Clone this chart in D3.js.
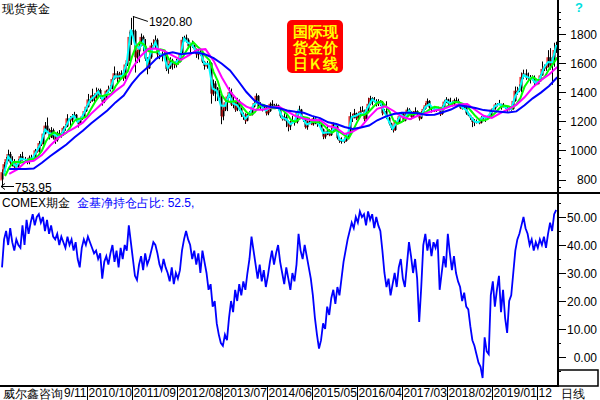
<!DOCTYPE html>
<html><head><meta charset="utf-8">
<script src="https://cdn.jsdelivr.net/npm/d3@7"></script>
<style>body{margin:0;background:#fff}svg{display:block}text{font-family:"Liberation Sans",Arial,sans-serif}</style>
</head><body>
<svg id="c" width="600" height="400"></svg>
<script>
// half-month candles, t = 0.5*i + 0.25 months after 2009-01
const opens=[800,850,905,940,975,915,925,885,890,925,960,940,935,920,950,950,945,1000,995,1050,1045,1115,1170,1140,
1095,1140,1085,1070,1120,1105,1110,1155,1165,1220,1210,1235,1245,1210,1180,1215,1235,1270,1300,1350,1340,1380,1360,1395,
1415,1370,1335,1365,1410,1420,1430,1490,1530,1495,1520,1530,1500,1590,1620,1780,1825,1820,1640,1680,1720,1780,1720,1630,
1565,1640,1720,1725,1760,1660,1665,1650,1660,1560,1570,1620,1595,1590,1615,1610,1670,1760,1775,1760,1715,1730,1720,1695,
1660,1680,1660,1610,1580,1590,1600,1390,1460,1430,1390,1380,1235,1280,1330,1370,1400,1315,1330,1280,1340,1285,1245,1230,
1205,1250,1245,1300,1325,1375,1295,1305,1290,1295,1255,1270,1320,1310,1290,1310,1285,1235,1215,1230,1200,1165,1195,1200,
1195,1265,1280,1230,1210,1160,1195,1200,1180,1220,1205,1180,1175,1145,1095,1110,1135,1105,1140,1180,1165,1085,1065,1065,
1065,1095,1115,1235,1225,1255,1220,1240,1270,1275,1215,1280,1320,1360,1340,1340,1320,1325,1335,1255,1270,1225,1185,1155,
1140,1195,1190,1235,1255,1205,1245,1280,1265,1230,1265,1270,1245,1220,1260,1285,1310,1340,1295,1290,1275,1280,1290,1250,
1300,1335,1350,1320,1330,1320,1345,1340,1325,1290,1300,1300,1255,1240,1225,1195,1200,1195,1190,1225,1230,1220,1225,1240,
1280,1290,1315,1320,1320,1300,1310,1295,1280,1285,1285,1340,1410,1410,1425,1505,1530,1500,1505,1490,1500,1465,1455,1475,
1515,1560,1575,1575,1640,1590,1620,1690];
const highs=[870,920,955,1005,990,960,940,905,940,975,990,955,945,965,970,960,1010,1020,1065,1070,1130,1195,1226,1150,
1160,1150,1100,1130,1140,1125,1165,1180,1249,1235,1250,1265,1250,1215,1225,1250,1280,1310,1388,1375,1424,1390,1432,1425,
1425,1375,1375,1415,1445,1448,1500,1577,1545,1540,1550,1555,1600,1632,1815,1911,1920.8,1830,1690,1745,1803,1790,1765,1640,
1665,1740,1763,1790,1770,1680,1680,1675,1665,1595,1640,1630,1605,1630,1625,1680,1780,1788,1796,1770,1740,1755,1725,1700,
1695,1697,1680,1615,1615,1617,1605,1487,1476,1435,1415,1395,1295,1348,1380,1433,1425,1372,1330,1361,1350,1295,1260,1255,
1260,1270,1305,1345,1392,1380,1331,1310,1315,1300,1280,1330,1345,1320,1322,1315,1290,1240,1255,1245,1205,1205,1238,1205,
1270,1307,1285,1235,1220,1205,1224,1210,1230,1232,1210,1205,1180,1150,1120,1170,1145,1157,1191,1185,1170,1090,1090,1088,
1110,1125,1263,1250,1285,1260,1262,1300,1304,1280,1295,1362,1375,1365,1367,1352,1352,1345,1340,1285,1338,1230,1190,1160,
1205,1220,1245,1264,1260,1260,1295,1290,1270,1270,1296,1275,1250,1270,1295,1325,1357,1345,1305,1295,1290,1300,1295,1310,
1345,1366,1355,1362,1340,1356,1365,1355,1330,1305,1310,1305,1265,1245,1225,1215,1212,1215,1235,1243,1237,1230,1250,1285,
1298,1326,1325,1347,1320,1325,1310,1300,1305,1295,1348,1439,1437,1453,1535,1555,1557,1535,1518,1516,1515,1478,1485,1525,
1611,1590,1590,1689,1703,1645,1740,1747];
const lows=[753.95,835,890,925,900,890,870,865,875,910,930,920,905,905,935,930,935,985,985,1030,1040,1110,1125,1075,
1085,1075,1045,1060,1100,1088,1100,1135,1160,1165,1195,1225,1195,1157,1175,1210,1225,1265,1295,1325,1335,1330,1355,1375,
1355,1308,1325,1355,1395,1405,1420,1485,1462,1475,1510,1478,1490,1580,1615,1725,1780,1535,1600,1605,1715,1680,1615,1523,
1560,1630,1705,1700,1640,1627,1612,1628,1545,1527,1560,1555,1565,1570,1590,1605,1665,1750,1740,1700,1672,1705,1685,1636,
1625,1650,1600,1555,1562,1585,1321,1375,1338,1340,1360,1180,1207,1270,1270,1360,1305,1290,1265,1270,1270,1230,1210,1182,
1200,1238,1240,1295,1320,1290,1285,1268,1280,1240,1242,1265,1300,1285,1285,1275,1225,1205,1205,1160,1131,1140,1185,1170,
1185,1250,1220,1195,1150,1142,1180,1175,1170,1180,1162,1165,1140,1077,1080,1105,1098,1100,1130,1140,1075,1052,1046,1050,
1060,1080,1110,1195,1220,1208,1210,1230,1265,1200,1205,1255,1310,1310,1330,1302,1305,1305,1241,1250,1215,1172,1140,1123,
1135,1180,1185,1230,1195,1200,1240,1255,1214,1225,1255,1236,1205,1215,1255,1280,1305,1280,1260,1265,1265,1275,1236,1245,
1295,1325,1306,1310,1303,1310,1325,1310,1285,1281,1290,1245,1235,1210,1160,1167,1185,1180,1185,1212,1196,1210,1221,1235,
1275,1280,1302,1310,1280,1295,1285,1266,1275,1273,1280,1335,1382,1400,1400,1490,1485,1485,1460,1480,1445,1450,1455,1470,
1515,1545,1547,1570,1555,1451,1575,1670];
const closes=[850,905,940,975,915,925,885,890,925,960,940,935,920,950,950,945,1000,995,1050,1045,1115,1170,1140,1095,
1140,1085,1070,1120,1105,1110,1155,1165,1220,1210,1235,1245,1210,1180,1215,1235,1270,1300,1350,1340,1380,1360,1395,1415,
1370,1335,1365,1410,1420,1430,1490,1530,1495,1520,1530,1500,1590,1620,1780,1825,1820,1640,1680,1720,1780,1720,1630,1565,
1640,1720,1725,1760,1660,1665,1650,1660,1560,1570,1620,1595,1590,1615,1610,1670,1760,1775,1760,1715,1730,1720,1695,1660,
1680,1660,1610,1580,1590,1600,1390,1460,1430,1390,1380,1235,1280,1330,1370,1400,1315,1330,1280,1340,1285,1245,1230,1205,
1250,1245,1300,1325,1375,1295,1305,1290,1295,1255,1270,1320,1310,1290,1310,1285,1235,1215,1230,1200,1165,1195,1200,1195,
1265,1280,1230,1210,1160,1195,1200,1180,1220,1205,1180,1175,1145,1095,1110,1135,1105,1140,1180,1165,1085,1065,1065,1065,
1095,1115,1235,1225,1255,1220,1240,1270,1275,1215,1280,1320,1360,1340,1340,1320,1325,1335,1255,1270,1225,1185,1155,1140,
1195,1190,1235,1255,1205,1245,1280,1265,1230,1265,1270,1245,1220,1260,1285,1310,1340,1295,1290,1275,1280,1290,1250,1300,
1335,1350,1320,1330,1320,1345,1340,1325,1290,1300,1300,1255,1240,1225,1195,1200,1195,1190,1225,1230,1220,1225,1240,1280,
1290,1315,1320,1320,1300,1310,1295,1280,1285,1285,1340,1410,1410,1425,1505,1530,1500,1505,1490,1500,1465,1455,1475,1515,
1560,1575,1575,1640,1590,1620,1690,1720];
// moving averages
const maCyan=[840,958,920,888,943,938,935,948,998,1048,1143,1118,1113,1095,1108,1160,1215,1240,1195,1225,1285,1345,1370,1405,
1353,1388,1425,1510,1508,1515,1605,1830,1730,1700,1750,1598,1680,1743,1663,1655,1565,1608,1603,1640,1768,1738,1725,1678,
1670,1595,1595,1425,1410,1308,1305,1385,1323,1310,1265,1218,1248,1313,1335,1298,1275,1295,1300,1298,1225,1215,1180,1198,
1273,1220,1178,1190,1213,1178,1120,1123,1123,1173,1075,1065,1105,1230,1238,1255,1245,1300,1350,1330,1330,1263,1205,1148,
1193,1245,1225,1273,1248,1258,1240,1298,1318,1283,1285,1275,1343,1325,1333,1333,1295,1278,1233,1198,1193,1228,1223,1260,
1303,1320,1305,1288,1285,1375,1418,1518,1503,1495,1460,1495,1568,1608,1605,1725];
const maGreen=[823,882,919,922,917,923,939,940,960,998,1063,1103,1125,1109,1105,1121,1161,1205,1217,1220,
1235,1285,1333,1373,1376,1382,1389,1441,1481,1511,1543,1641,1713,1744,1727,1683,1676,1674,1695,1687,
1628,1609,1592,1617,1670,1715,1744,1714,1691,1648,1620,1538,1477,1381,1341,1333,1338,1339,1299,1264,
1244,1260,1299,1315,1303,1289,1290,1298,1274,1246,1207,1198,1217,1230,1224,1196,1194,1194,1170,1140,
1122,1140,1124,1104,1082,1133,1191,1241,1246,1267,1298,1327,1337,1308,1266,1205,1182,1195,1221,1248,
1249,1260,1249,1265,1285,1300,1295,1281,1301,1314,1334,1330,1320,1302,1269,1236,1208,1206,1215,1237,
1262,1294,1309,1304,1293,1316,1359,1437,1480,1505,1486,1483,1508,1557,1594,1639];
const maMagenta=[839,869,921,929,968,1032,1086,1123,1155,1191,1251,1304,1358,1409,1450,1561,1644,1698,1700,1682,
1652,1622,1654,1692,1696,1615,1501,1405,1340,1301,1280,1280,1294,1300,1268,1236,1219,1207,1209,1167,
1155,1113,1129,1161,1229,1286,1303,1271,1231,1215,1240,1257,1274,1283,1305,1316,1318,1278,1238,1223,
1255,1283,1313,1365,1432,1482,1522,1574];
const maBlue=[873,873,873,875,915,960,1000,1040,1090,1135,1185,1230,1274,1330,1377,1459,1526,1574,1631,1663,
1675,1661,1668,1672,1659,1634,1596,1550,1477,1401,1342,1310,1298,1290,1274,1265,1259,1237,1222,1193,
1181,1161,1148,1158,1171,1207,1232,1250,1259,1259,1256,1244,1245,1262,1281,1310,1301,1292,1277,1270,
1266,1260,1268,1310,1358,1397,1443,1503];
// COMEX managed-money net long share (%), half-month points
const netLong=[32,42,45,40,46,41,38,42,40,39,47,40,49,44,48,51,47,50,51,48,50,45,49,44,47,43,42,44,40,43,41,39,43,40,42,38,41,35,32,39,
42,40,43,41,39,37,38,35,37,28,34,36,33,37,40,34,38,32,39,35,40,38,47,41,35,29,27.5,33,36,31,37,33,35,38,41,40,37,33,31,35,
32,30,27,32,26,30,28,31,38,42,45,42,40,35,38,33,37,30,38,34,30,24,26,18,20,12,8,5,4,8,6,14,20,16,24,20,26,22,27,24,
30,35,43,38,33,28,33,27,31,25,29,34,38,33,37,40,34,30,26,32,28,24,30,27,33,44,38,35,40,36,32,28,22,14,8,3,6,12,10,18,
15,21,24,19,25,22,28,34,38,42,45,48,46,50,48,52,50,51,47,52,49,51,46,50,47,45,38,30,25,28,22,26,30,25,32,35,28,25,33,41,
36,30,35,28,12.5,25,40,44,38,42,36,41,39,42,24,30,36,32,44,37,31,36,30,27,25,20,23,18,17,11,6,4,1,-2,-3.5,-7.5,7,2,1,22,
27,18,24,29,16,24,14,8.6,20,22,30,38,42,44,47,50,46,44,40,42,38,41,39,42,40,43,39,44,48,45,51,52.5];
const priceTicks=[800,1000,1200,1400,1600,1800];
const pctTicks=[0,10,20,30,40,50];
const dateMonths=[10,21,32,43,54,65,76,87,98,109,120,131];
const dateLabels=["9/11","2010/10","2011/09","2012/08","2013/07","2014/06","2015/05","2016/04","2017/03","2018/02","2019/01","12"];

const svg=d3.select("#c");
const R=558, TOP_B=193, BOT_B=386;
const x=d3.scaleLinear().domain([0,136]).range([1,1+4.09*136]);
const yP=d3.scaleLinear().domain([800,1800]).range([179.5,34]);
const yN=d3.scaleLinear().domain([0,50]).range([357,217]);

const defs=svg.append("defs");
defs.append("clipPath").attr("id","ct").append("rect").attr("x",0).attr("y",0).attr("width",R-1).attr("height",TOP_B-1);
defs.append("clipPath").attr("id","cb").append("rect").attr("x",0).attr("y",TOP_B+1).attr("width",R-1).attr("height",BOT_B-TOP_B-2);

const gT=svg.append("g").attr("clip-path","url(#ct)");
const candles=closes.map((c,i)=>({t:0.5*i+0.25,o:opens[i],h:highs[i],l:lows[i],c:c}));
gT.selectAll("line.w").data(candles).join("line").attr("class","w")
  .attr("x1",d=>Math.round(x(d.t))+0.5).attr("x2",d=>Math.round(x(d.t))+0.5)
  .attr("y1",d=>yP(d.h)).attr("y2",d=>yP(d.l)).attr("stroke","#000").attr("stroke-width",1);
gT.selectAll("rect.b").data(candles).join("rect").attr("class","b")
  .attr("x",d=>Math.round(x(d.t))-0.5).attr("width",2)
  .attr("y",d=>yP(Math.max(d.o,d.c))).attr("height",d=>Math.max(1,Math.abs(yP(d.o)-yP(d.c))))
  .attr("fill","#000");
gT.selectAll("line.r").data(candles.filter(d=>d.c>=d.o)).join("line").attr("class","r")
  .attr("x1",d=>Math.round(x(d.t))-1).attr("x2",d=>Math.round(x(d.t))-1)
  .attr("y1",d=>yP(d.c)).attr("y2",d=>yP(d.o)+1).attr("stroke","#ff0000").attr("stroke-width",1);

const line=d3.line().x(d=>x(d[0])).y(d=>yP(d[1]));
gT.append("path").datum(maCyan.map((v,k)=>[k+0.75,v])).attr("d",line).attr("fill","none").attr("stroke","#00ffff").attr("stroke-width",2);
gT.append("path").datum(maGreen.map((v,k)=>[k+1,v])).attr("d",line).attr("fill","none").attr("stroke","#00ff00").attr("stroke-width",2);
gT.append("path").datum(maMagenta.map((v,j)=>[2*j+2,v])).attr("d",line).attr("fill","none").attr("stroke","#ff00ff").attr("stroke-width",2);
gT.append("path").datum(maBlue.map((v,j)=>[2*j+2,v])).attr("d",line).attr("fill","none").attr("stroke","#0000ff").attr("stroke-width",2);

// bottom panel line
const gB=svg.append("g").attr("clip-path","url(#cb)");
gB.append("path").datum(netLong.map((v,i)=>[0.5*i+0.25,v]))
  .attr("d",d3.line().x(d=>x(d[0])).y(d=>yN(d[1])))
  .attr("fill","none").attr("stroke","#0000ff").attr("stroke-width",1.8);

// frame
svg.append("line").attr("x1",0).attr("x2",600).attr("y1",TOP_B).attr("y2",TOP_B).attr("stroke","#000").attr("stroke-width",2);
svg.append("line").attr("x1",0).attr("x2",R).attr("y1",BOT_B).attr("y2",BOT_B).attr("stroke","#000").attr("stroke-width",2);
svg.append("line").attr("x1",R).attr("x2",R).attr("y1",0).attr("y2",BOT_B+1).attr("stroke","#000").attr("stroke-width",2);
svg.append("rect").attr("x",R).attr("y",370).attr("width",40).attr("height",16).attr("fill","none").attr("stroke","#000").attr("stroke-width",1.5);

// price axis
const minorP=d3.range(750,2001,50).filter(v=>v%200!==0&&yP(v)>2&&yP(v)<TOP_B-2);
svg.selectAll("line.mp").data(minorP).join("line").attr("x1",R).attr("x2",R+3)
  .attr("y1",d=>Math.round(yP(d))+0.5).attr("y2",d=>Math.round(yP(d))+0.5).attr("stroke","#000");
svg.selectAll("line.tp").data(priceTicks).join("line").attr("x1",R).attr("x2",R+8)
  .attr("y1",d=>Math.round(yP(d))+0.5).attr("y2",d=>Math.round(yP(d))+0.5).attr("stroke","#000");
svg.selectAll("text.tp").data(priceTicks).join("text").attr("x",597).attr("y",d=>yP(d)+4.5)
  .attr("text-anchor","end").attr("font-size",12).text(d=>d);

// pct axis
const minorN=d3.range(-10,56,5).filter(v=>v%10!==0&&yN(v)>TOP_B+2&&yN(v)<BOT_B-1);
svg.selectAll("line.mn").data(minorN).join("line").attr("x1",R).attr("x2",R+3)
  .attr("y1",d=>Math.round(yN(d))+0.5).attr("y2",d=>Math.round(yN(d))+0.5).attr("stroke","#000");
svg.selectAll("line.tn").data(pctTicks).join("line").attr("x1",R).attr("x2",R+8)
  .attr("y1",d=>Math.round(yN(d))+0.5).attr("y2",d=>Math.round(yN(d))+0.5).attr("stroke","#000");
svg.selectAll("text.tn").data(pctTicks).join("text").attr("x",597).attr("y",d=>yN(d)+4.5)
  .attr("text-anchor","end").attr("font-size",12).text(d=>d.toFixed(2));

// date axis
svg.selectAll("line.td").data(dateMonths.slice(1)).join("line")
  .attr("x1",d=>Math.round(x(d))+0.5).attr("x2",d=>Math.round(x(d))+0.5).attr("y1",BOT_B).attr("y2",400).attr("stroke","#000");
svg.selectAll("text.td").data(dateLabels).join("text")
  .attr("x",(d,i)=>i===0?Math.round(x(dateMonths[1]))-0.5:Math.round(x(dateMonths[i]))+1.5)
  .attr("text-anchor",(d,i)=>i===0?"end":"start")
  .attr("y",397).attr("font-size",12).text(d=>d);
svg.append("text").attr("x",3).attr("y",398).attr("font-size",12).attr("font-family","Noto Sans CJK SC").text("威尔鑫咨询");
svg.append("text").attr("x",561).attr("y",398).attr("font-size",12).attr("font-family","Noto Sans CJK SC").text("日线");

// titles
svg.append("text").attr("x",2).attr("y",13).attr("font-size",12).attr("font-family","Noto Sans CJK SC").text("现货黄金");
svg.append("text").attr("x",2).attr("y",207).attr("font-size",12).attr("font-family","Liberation Sans, Noto Sans CJK SC").text("COMEX期金");
svg.append("text").attr("x",77).attr("y",207).attr("font-size",12).attr("fill","#0000ff").attr("font-family","Liberation Sans, Noto Sans CJK SC").text("金基净持仓占比: "+netLong[netLong.length-1]+",");
svg.append("text").attr("x",575).attr("y",12).attr("font-size",13).attr("font-weight","bold").attr("fill","#00e0e0").text("?");

// high / low annotations
const hiI=highs.indexOf(d3.max(highs)), loI=lows.indexOf(d3.min(lows));
const hx=x(0.5*hiI+0.25), hy=yP(highs[hiI]);
svg.append("line").attr("x1",hx).attr("y1",hy).attr("x2",hx+15).attr("y2",hy+5).attr("stroke","#000");
svg.append("text").attr("x",hx+16).attr("y",hy+10).attr("font-size",12).text(d3.format(".2f")(highs[hiI]));
const ly=Math.round(yP(lows[loI]))+0.5;
svg.append("path").attr("d",`M1,${ly}H14M5,${ly-3}L1,${ly}L5,${ly+3}`).attr("fill","none").attr("stroke","#000");
svg.append("text").attr("x",15).attr("y",ly+5).attr("font-size",12).text(d3.format(".2f")(lows[loI]));

// title box
svg.append("rect").attr("x",287).attr("y",20).attr("width",56).attr("height",53).attr("rx",5).attr("fill","#ff0000");
["国际现","货金价","日Ｋ线"].forEach((s,i)=>{
  svg.append("text").attr("x",315).attr("y",37+i*16).attr("text-anchor","middle").attr("font-size",15).attr("font-weight","bold")
    .attr("font-family","Noto Sans CJK SC").attr("fill","#ffff00").text(s);
});
</script>
</body></html>
